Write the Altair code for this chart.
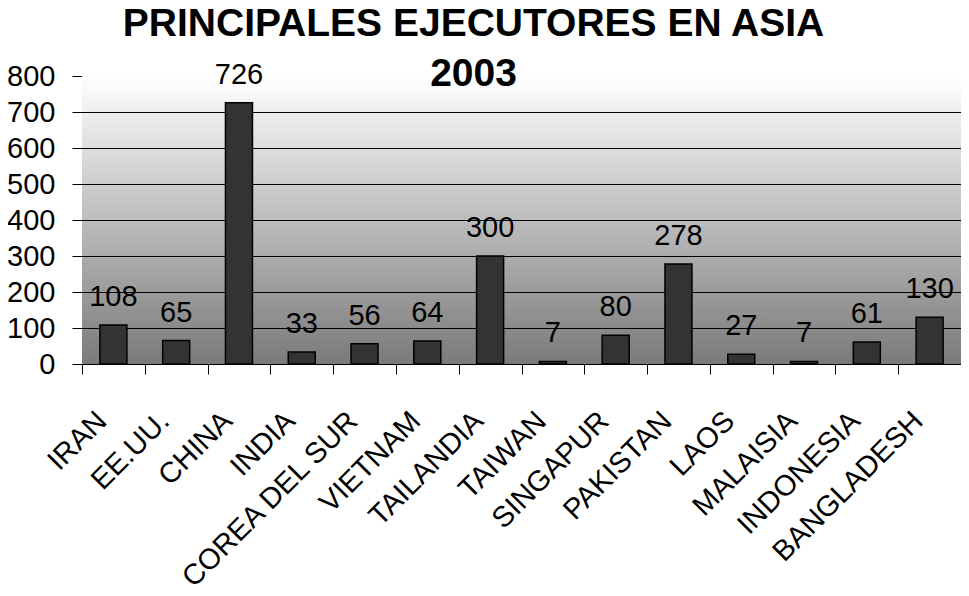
import altair as alt
import pandas as pd

countries = ["IRAN", "EE.UU.", "CHINA", "INDIA", "COREA DEL SUR", "VIETNAM",
             "TAILANDIA", "TAIWAN", "SINGAPUR", "PAKISTAN", "LAOS", "MALAISIA",
             "INDONESIA", "BANGLADESH"]
values = [108, 65, 726, 33, 56, 64, 300, 7, 80, 278, 27, 7, 61, 130]
y_ticks = [0, 100, 200, 300, 400, 500, 600, 700, 800]
grid_values = [100, 200, 300, 400, 500, 600, 700]
title_lines = ["PRINCIPALES EJECUTORES EN ASIA", "2003"]

W, H = 879, 288
FONT = "Liberation Sans"

df = pd.DataFrame({"pais": countries, "valor": values})
grid_df = pd.DataFrame({"valor": grid_values})

x_axis = alt.Axis(title=None, labelAngle=-45, labelAlign="right",
                  labelBaseline="middle", labelPadding=42, labelOffset=-12,
                  labelFontSize=29, labelFont=FONT, labelColor="black",
                  tickBand="extent", tickSize=10, tickColor="black",
                  domainColor="black", labelLimit=400, labelOverlap=False)
y_axis = alt.Axis(title=None, values=y_ticks, labelFontSize=29,
                  labelFont=FONT, labelColor="black", labelPadding=17,
                  tickSize=10, tickColor="black", domainColor="black",
                  grid=False, labelOverlap=False, labelFlush=False,
                  labelBound=False)

x_enc = alt.X("pais:N", sort=countries,
              scale=alt.Scale(paddingInner=0, paddingOuter=0), axis=x_axis)
y_enc = alt.Y("valor:Q", scale=alt.Scale(domain=[0, 800]), axis=y_axis)

bg = alt.Chart(pd.DataFrame({"a": [0]})).mark_rect(
    color=alt.Gradient(gradient="linear", x1=0, x2=0, y1=0, y2=1,
                       stops=[alt.GradientStop(offset=0, color="#ffffff"),
                              alt.GradientStop(offset=1, color="#7a7a7a")])
).encode(x=alt.value(0), x2=alt.value(W), y=alt.value(0), y2=alt.value(H))

grid = alt.Chart(grid_df).mark_rule(color="black", strokeWidth=1, yOffset=0.5).encode(y=y_enc)

bars = alt.Chart(df).mark_bar(width=alt.RelativeBandSize(0.43), color="#333333",
                              stroke="black", strokeWidth=1.5).encode(x=x_enc, y=y_enc)

labels = alt.Chart(df).mark_text(fontSize=29, font=FONT, color="black",
                                 baseline="alphabetic", dy=-19).encode(
    x=x_enc, y=y_enc, text="valor:Q")

chart = alt.layer(bg, grid, bars, labels).properties(
    width=W, height=H,
    autosize=alt.AutoSizeParams(type="none"),
    padding={"left": 74, "top": 68, "right": 0, "bottom": 224},
    title=alt.TitleParams(text=title_lines, fontSize=39, font=FONT, fontWeight="bold",
                          color="black", lineHeight=50, anchor="middle", dx=-48,
                          offset=-33),
).configure_view(strokeWidth=0)

chart.save("out.html", embed_options={"renderer": "svg", "actions": False})
